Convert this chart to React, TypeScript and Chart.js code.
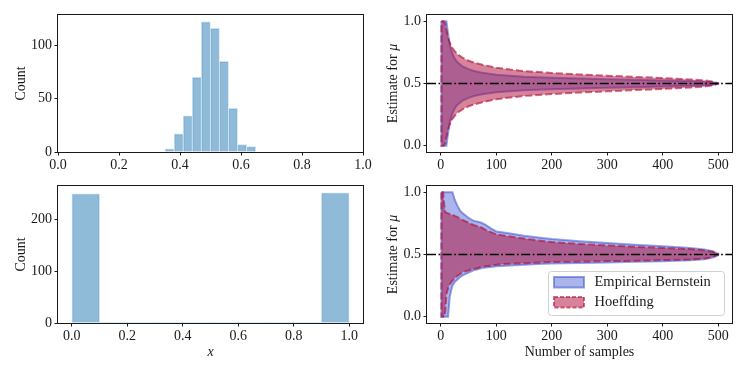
import React, { useEffect, useRef } from 'react';
import { Chart, registerables } from 'chart.js';

Chart.register(...registerables);

// ---------------- data ----------------
// top-left histogram (bounded, concentrated data)
const topHistEdges = [0.351, 0.3807, 0.4104, 0.4401, 0.4698, 0.4995, 0.5292, 0.5589, 0.5886, 0.6183, 0.648];
const topHistCounts = [3, 17, 34, 70, 122, 116, 85, 41, 7, 5];
// bottom-left histogram (Bernoulli data)
const bottomHistEdges = [0, 0.1, 0.2, 0.3, 0.4, 0.5, 0.6, 0.7, 0.8, 0.9, 1.0];
const bottomHistCounts = [249, 0, 0, 0, 0, 0, 0, 0, 0, 251];

const histXTicks = [0, 0.2, 0.4, 0.6, 0.8, 1.0];
const topHistYTicks = [0, 50, 100];
const bottomHistYTicks = [0, 100, 200];
const topHistXRange = [0, 1];
const bottomHistXRange = [-0.05, 1.05];
const topHistYRange = [0, 128.5];
const bottomHistYRange = [0, 264];

// right column: confidence bands vs number of samples
const bandXTicks = [0, 100, 200, 300, 400, 500];
const bandYTicks = [0, 0.5, 1.0];
const bandXRange = [-25, 525];
const bandYRange = [-0.05, 1.05];
const trueMean = 0.5;

const nTop = [1, 5, 8, 10, 12, 15, 18, 20, 25, 30, 40, 50, 60, 75, 100, 125, 150, 200, 250, 300, 350, 400, 450, 475, 490, 500];
const topEBUpper = [1, 1, 1, 1, 0.93, 0.84, 0.78, 0.75, 0.70, 0.67, 0.635, 0.615, 0.60, 0.587, 0.571, 0.562, 0.555, 0.547, 0.541, 0.535, 0.530, 0.525, 0.519, 0.514, 0.510, 0.502];
const topEBLower = [0, 0, 0, 0, 0.07, 0.16, 0.22, 0.25, 0.30, 0.33, 0.365, 0.385, 0.40, 0.413, 0.429, 0.438, 0.445, 0.453, 0.459, 0.465, 0.470, 0.475, 0.481, 0.486, 0.490, 0.498];
const topHUpper = [1, 1, 0.98, 0.93, 0.89, 0.84, 0.81, 0.79, 0.76, 0.735, 0.705, 0.683, 0.668, 0.65, 0.627, 0.612, 0.60, 0.585, 0.573, 0.563, 0.553, 0.544, 0.533, 0.525, 0.516, 0.503];
const topHLower = [0, 0, 0.02, 0.07, 0.11, 0.16, 0.19, 0.21, 0.24, 0.265, 0.295, 0.317, 0.332, 0.35, 0.373, 0.388, 0.40, 0.415, 0.427, 0.437, 0.447, 0.456, 0.467, 0.475, 0.484, 0.497];

const nBot = [1, 4, 6, 8, 10, 13, 16, 19, 21, 25, 30, 35, 40, 48, 55, 60, 65, 72, 80, 90, 100, 110, 125, 150, 175, 200, 250, 300, 350, 400, 450, 475, 490, 500];
const botEBUpper = [1, 1, 1, 1, 1, 1, 1, 1, 1, 0.94, 0.89, 0.85, 0.83, 0.80, 0.78, 0.77, 0.765, 0.757, 0.74, 0.71, 0.685, 0.678, 0.668, 0.65, 0.637, 0.625, 0.607, 0.592, 0.578, 0.566, 0.553, 0.54, 0.527, 0.505];
const botEBLower = [0, 0, 0, 0, 0, 0, 0.16, 0.22, 0.25, 0.28, 0.30, 0.32, 0.335, 0.35, 0.365, 0.375, 0.38, 0.39, 0.395, 0.40, 0.405, 0.408, 0.412, 0.418, 0.423, 0.428, 0.432, 0.436, 0.441, 0.446, 0.453, 0.462, 0.475, 0.495];
const botHUpper = [1, 1, 0.9, 0.84, 0.835, 0.83, 0.825, 0.82, 0.82, 0.81, 0.80, 0.79, 0.775, 0.76, 0.745, 0.735, 0.73, 0.72, 0.70, 0.68, 0.662, 0.655, 0.645, 0.628, 0.613, 0.60, 0.585, 0.573, 0.562, 0.553, 0.543, 0.533, 0.522, 0.505];
const botHLower = [0, 0, 0, 0.05, 0.18, 0.23, 0.26, 0.28, 0.29, 0.31, 0.33, 0.345, 0.36, 0.37, 0.38, 0.385, 0.39, 0.40, 0.405, 0.41, 0.418, 0.422, 0.426, 0.43, 0.435, 0.44, 0.443, 0.447, 0.45, 0.455, 0.46, 0.468, 0.48, 0.497];

const seriesNames = ['Empirical Bernstein', 'Hoeffding'];

// ---------------- styles ----------------
const FONT = "'Liberation Serif', 'Times New Roman', serif";
const INK = '#1a1a1a';
const TICK_SIZE = 14;
const TITLE_SIZE = 14;
const LEGEND_SIZE = 14.5;
const HIST_FILL = 'rgba(31,119,180,0.5)';
const HIST_EDGE = 'rgba(205,225,240,1)';
const BLUE_FILL = 'rgba(45,70,205,0.4)';
const BLUE_EDGE = 'rgba(45,70,205,0.5)';
const RED_FILL = 'rgba(175,10,55,0.5)';
const RED_EDGE = 'rgba(175,10,55,0.6)';
const RED_DASH = [7, 3];
const MEAN_DASH = [9, 2.5, 1.7, 2.5];

type Frame = { W: number; H: number; L: number; T: number; R: number; B: number };

function axis(range: number[], ticks: number[], fmt: (v: number) => string, vertical: boolean, size: number, pad: number) {
  return {
    type: 'linear',
    min: range[0],
    max: range[1],
    offset: false,
    grid: { display: true, drawOnChartArea: false, drawTicks: true, tickLength: 3.5, color: INK, lineWidth: 1, offset: false },
    border: { display: false },
    ticks: {
      font: { family: FONT, size: TICK_SIZE },
      color: INK,
      padding: pad,
      maxRotation: 0,
      autoSkip: false,
      callback: (v: any) => fmt(Number(v)),
    },
    afterBuildTicks: (s: any) => {
      s.ticks = ticks.map((v) => ({ value: v }));
    },
    afterFit: (s: any) => {
      if (vertical) s.width = size;
      else s.height = size;
      s.paddingTop = 0;
      s.paddingBottom = 0;
      s.paddingLeft = 0;
      s.paddingRight = 0;
    },
  };
}

const framePlugin = {
  id: 'frameBox',
  afterDraw(chart: any) {
    const { ctx, chartArea: a } = chart;
    ctx.save();
    ctx.strokeStyle = INK;
    ctx.lineWidth = 1;
    ctx.strokeRect(Math.round(a.left) - 0.5, Math.round(a.top) - 0.5, Math.round(a.right - a.left) + 1, Math.round(a.bottom - a.top) + 1);
    ctx.restore();
  },
};

type Part = { text: string; italic?: boolean };
function makeTitles(yParts: Part[], yBaseline: number, xParts: Part[] | null, xBaseline: number) {
  const drawParts = (ctx: CanvasRenderingContext2D, parts: Part[]) => {
    const fonts = parts.map((p) => `${p.italic ? 'italic ' : ''}${TITLE_SIZE}px ${FONT}`);
    const widths = parts.map((p, i) => {
      ctx.font = fonts[i];
      return ctx.measureText(p.text).width;
    });
    const total = widths.reduce((s, w) => s + w, 0);
    let x = -total / 2;
    parts.forEach((p, i) => {
      ctx.font = fonts[i];
      ctx.fillText(p.text, x, 0);
      x += widths[i];
    });
  };
  return {
    id: 'axisTitles',
    afterDraw(chart: any) {
      const { ctx, chartArea: a } = chart;
      ctx.save();
      ctx.fillStyle = INK;
      ctx.textAlign = 'left';
      ctx.textBaseline = 'alphabetic';
      ctx.save();
      ctx.translate(yBaseline, (a.top + a.bottom) / 2);
      ctx.rotate(-Math.PI / 2);
      drawParts(ctx, yParts);
      ctx.restore();
      if (xParts) {
        ctx.save();
        ctx.translate((a.left + a.right) / 2, xBaseline);
        drawParts(ctx, xParts);
        ctx.restore();
      }
      ctx.restore();
    },
  };
}

function makeLegend() {
  const items = [
    { label: seriesNames[0], fill: BLUE_FILL, edge: BLUE_EDGE, dash: [] as number[] },
    { label: seriesNames[1], fill: RED_FILL, edge: RED_EDGE, dash: [4, 2] },
  ];
  return {
    id: 'legendBox',
    afterDraw(chart: any) {
      const ctx = chart.ctx as CanvasRenderingContext2D;
      ctx.save();
      const x0 = 174.5, y0 = 91.5, w = 176, h = 44, r = 3;
      ctx.beginPath();
      ctx.moveTo(x0 + r, y0);
      ctx.lineTo(x0 + w - r, y0);
      ctx.arcTo(x0 + w, y0, x0 + w, y0 + r, r);
      ctx.lineTo(x0 + w, y0 + h - r);
      ctx.arcTo(x0 + w, y0 + h, x0 + w - r, y0 + h, r);
      ctx.lineTo(x0 + r, y0 + h);
      ctx.arcTo(x0, y0 + h, x0, y0 + h - r, r);
      ctx.lineTo(x0, y0 + r);
      ctx.arcTo(x0, y0, x0 + r, y0, r);
      ctx.closePath();
      ctx.fillStyle = 'rgba(255,255,255,0.8)';
      ctx.fill();
      ctx.strokeStyle = '#d0d0d0';
      ctx.lineWidth = 1;
      ctx.stroke();
      items.forEach((it, i) => {
        const py = 97 + i * 20;
        ctx.fillStyle = it.fill;
        ctx.fillRect(180, py, 30, 10.5);
        ctx.setLineDash(it.dash);
        ctx.strokeStyle = it.edge;
        ctx.lineWidth = 2;
        ctx.strokeRect(180, py, 30, 10.5);
        ctx.setLineDash([]);
        ctx.fillStyle = INK;
        ctx.font = `${LEGEND_SIZE}px ${FONT}`;
        ctx.textBaseline = 'middle';
        ctx.textAlign = 'left';
        ctx.fillText(it.label, 220.5, py + 5.5);
      });
      ctx.restore();
    },
  };
}

function baseOptions(f: Frame) {
  return {
    responsive: false,
    maintainAspectRatio: false,
    animation: false,
    devicePixelRatio: 1,
    events: [],
    layout: { padding: { top: f.T, right: f.W - f.R, left: 0, bottom: 0 }, autoPadding: false },
    plugins: { legend: { display: false }, tooltip: { enabled: false }, title: { display: false } },
  };
}

function histConfig(f: Frame, edges: number[], counts: number[], xRange: number[], yRange: number[], yTicks: number[], xTitle: Part[] | null, xBaseline: number) {
  const data = counts.map((c, i) => ({ x: (edges[i] + edges[i + 1]) / 2, y: c }));
  return {
    type: 'bar',
    data: {
      datasets: [
        {
          data,
          backgroundColor: HIST_FILL,
          borderColor: HIST_EDGE,
          borderWidth: (c: any) => (c.raw && c.raw.y > 0 ? 1 : 0),
          borderSkipped: 'start',
          barPercentage: 1,
          categoryPercentage: 1,
        },
      ],
    },
    options: {
      ...baseOptions(f),
      scales: {
        x: axis(xRange, histXTicks, (v) => v.toFixed(1), false, f.H - f.B, 1),
        y: axis(yRange, yTicks, (v) => String(v), true, f.L, 2.5),
      },
    },
    plugins: [framePlugin, makeTitles([{ text: 'Count' }], 25, xTitle, xBaseline)],
  };
}

const pts = (xs: number[], ys: number[]) => xs.map((x, i) => ({ x, y: ys[i] }));
const outline = (xs: number[], up: number[], lo: number[]) => [...pts(xs, up), ...pts(xs, lo).reverse(), { x: xs[0], y: up[0] }];

function bandConfig(f: Frame, ns: number[], ebUp: number[], ebLo: number[], hUp: number[], hLo: number[], withX: boolean) {
  const line = { pointRadius: 0, tension: 0, spanGaps: true };
  const datasets: any[] = [
    { ...line, data: pts(ns, ebLo), borderWidth: 0, fill: false, order: 6 },
    { ...line, data: pts(ns, ebUp), borderWidth: 0, fill: '-1', backgroundColor: BLUE_FILL, order: 5 },
    { ...line, data: outline(ns, ebUp, ebLo), borderWidth: 2, borderColor: BLUE_EDGE, fill: false, order: 4 },
    { ...line, data: pts(ns, hLo), borderWidth: 0, fill: false, order: 3 },
    { ...line, data: pts(ns, hUp), borderWidth: 0, fill: '-1', backgroundColor: RED_FILL, order: 2 },
    { ...line, data: outline(ns, hUp, hLo), borderWidth: 2, borderColor: RED_EDGE, borderDash: RED_DASH, fill: false, order: 1 },
    {
      ...line,
      data: bandXRange.map((x) => ({ x, y: trueMean })),
      borderWidth: 1.5,
      borderColor: '#000',
      borderDash: MEAN_DASH,
      fill: false,
      order: 0,
    },
  ];
  const plugins: any[] = [
    framePlugin,
    makeTitles([{ text: 'Estimate for ' }, { text: 'μ', italic: true }], 23, withX ? [{ text: 'Number of samples' }] : null, 175.5),
  ];
  if (withX) plugins.push(makeLegend());
  return {
    type: 'line',
    data: { datasets },
    options: {
      ...baseOptions(f),
      scales: {
        x: axis(bandXRange, bandXTicks, (v) => String(v), false, f.H - f.B, 1),
        y: axis(bandYRange, bandYTicks, (v) => v.toFixed(1), true, f.L, 2.5),
      },
    },
    plugins,
  };
}

function ChartCanvas({ left, top, frame, build }: { left: number; top: number; frame: Frame; build: () => any }) {
  const ref = useRef<HTMLCanvasElement | null>(null);
  useEffect(() => {
    if (!ref.current) return;
    const chart = new Chart(ref.current, build());
    return () => chart.destroy();
  }, []);
  return (
    <canvas
      ref={ref}
      width={frame.W}
      height={frame.H}
      style={{ position: 'absolute', left, top, width: frame.W, height: frame.H }}
    />
  );
}

const fTL: Frame = { W: 374, H: 180, L: 58, T: 15, R: 363, B: 152 };
const fBL: Frame = { W: 374, H: 194, L: 58, T: 6, R: 363, B: 143 };
const fTR: Frame = { W: 373, H: 180, L: 53, T: 15, R: 358, B: 152 };
const fBR: Frame = { W: 373, H: 194, L: 53, T: 6, R: 358, B: 143 };

export default function App() {
  return (
    <div style={{ position: 'absolute', left: 0, top: 0, width: 747, height: 374, background: '#fff', overflow: 'hidden' }}>
      <ChartCanvas left={0} top={0} frame={fTL} build={() => histConfig(fTL, topHistEdges, topHistCounts, topHistXRange, topHistYRange, topHistYTicks, null, 0)} />
      <ChartCanvas
        left={0}
        top={180}
        frame={fBL}
        build={() => histConfig(fBL, bottomHistEdges, bottomHistCounts, bottomHistXRange, bottomHistYRange, bottomHistYTicks, [{ text: 'x', italic: true }], 175.5)}
      />
      <ChartCanvas left={374} top={0} frame={fTR} build={() => bandConfig(fTR, nTop, topEBUpper, topEBLower, topHUpper, topHLower, false)} />
      <ChartCanvas left={374} top={180} frame={fBR} build={() => bandConfig(fBR, nBot, botEBUpper, botEBLower, botHUpper, botHLower, true)} />
    </div>
  );
}
